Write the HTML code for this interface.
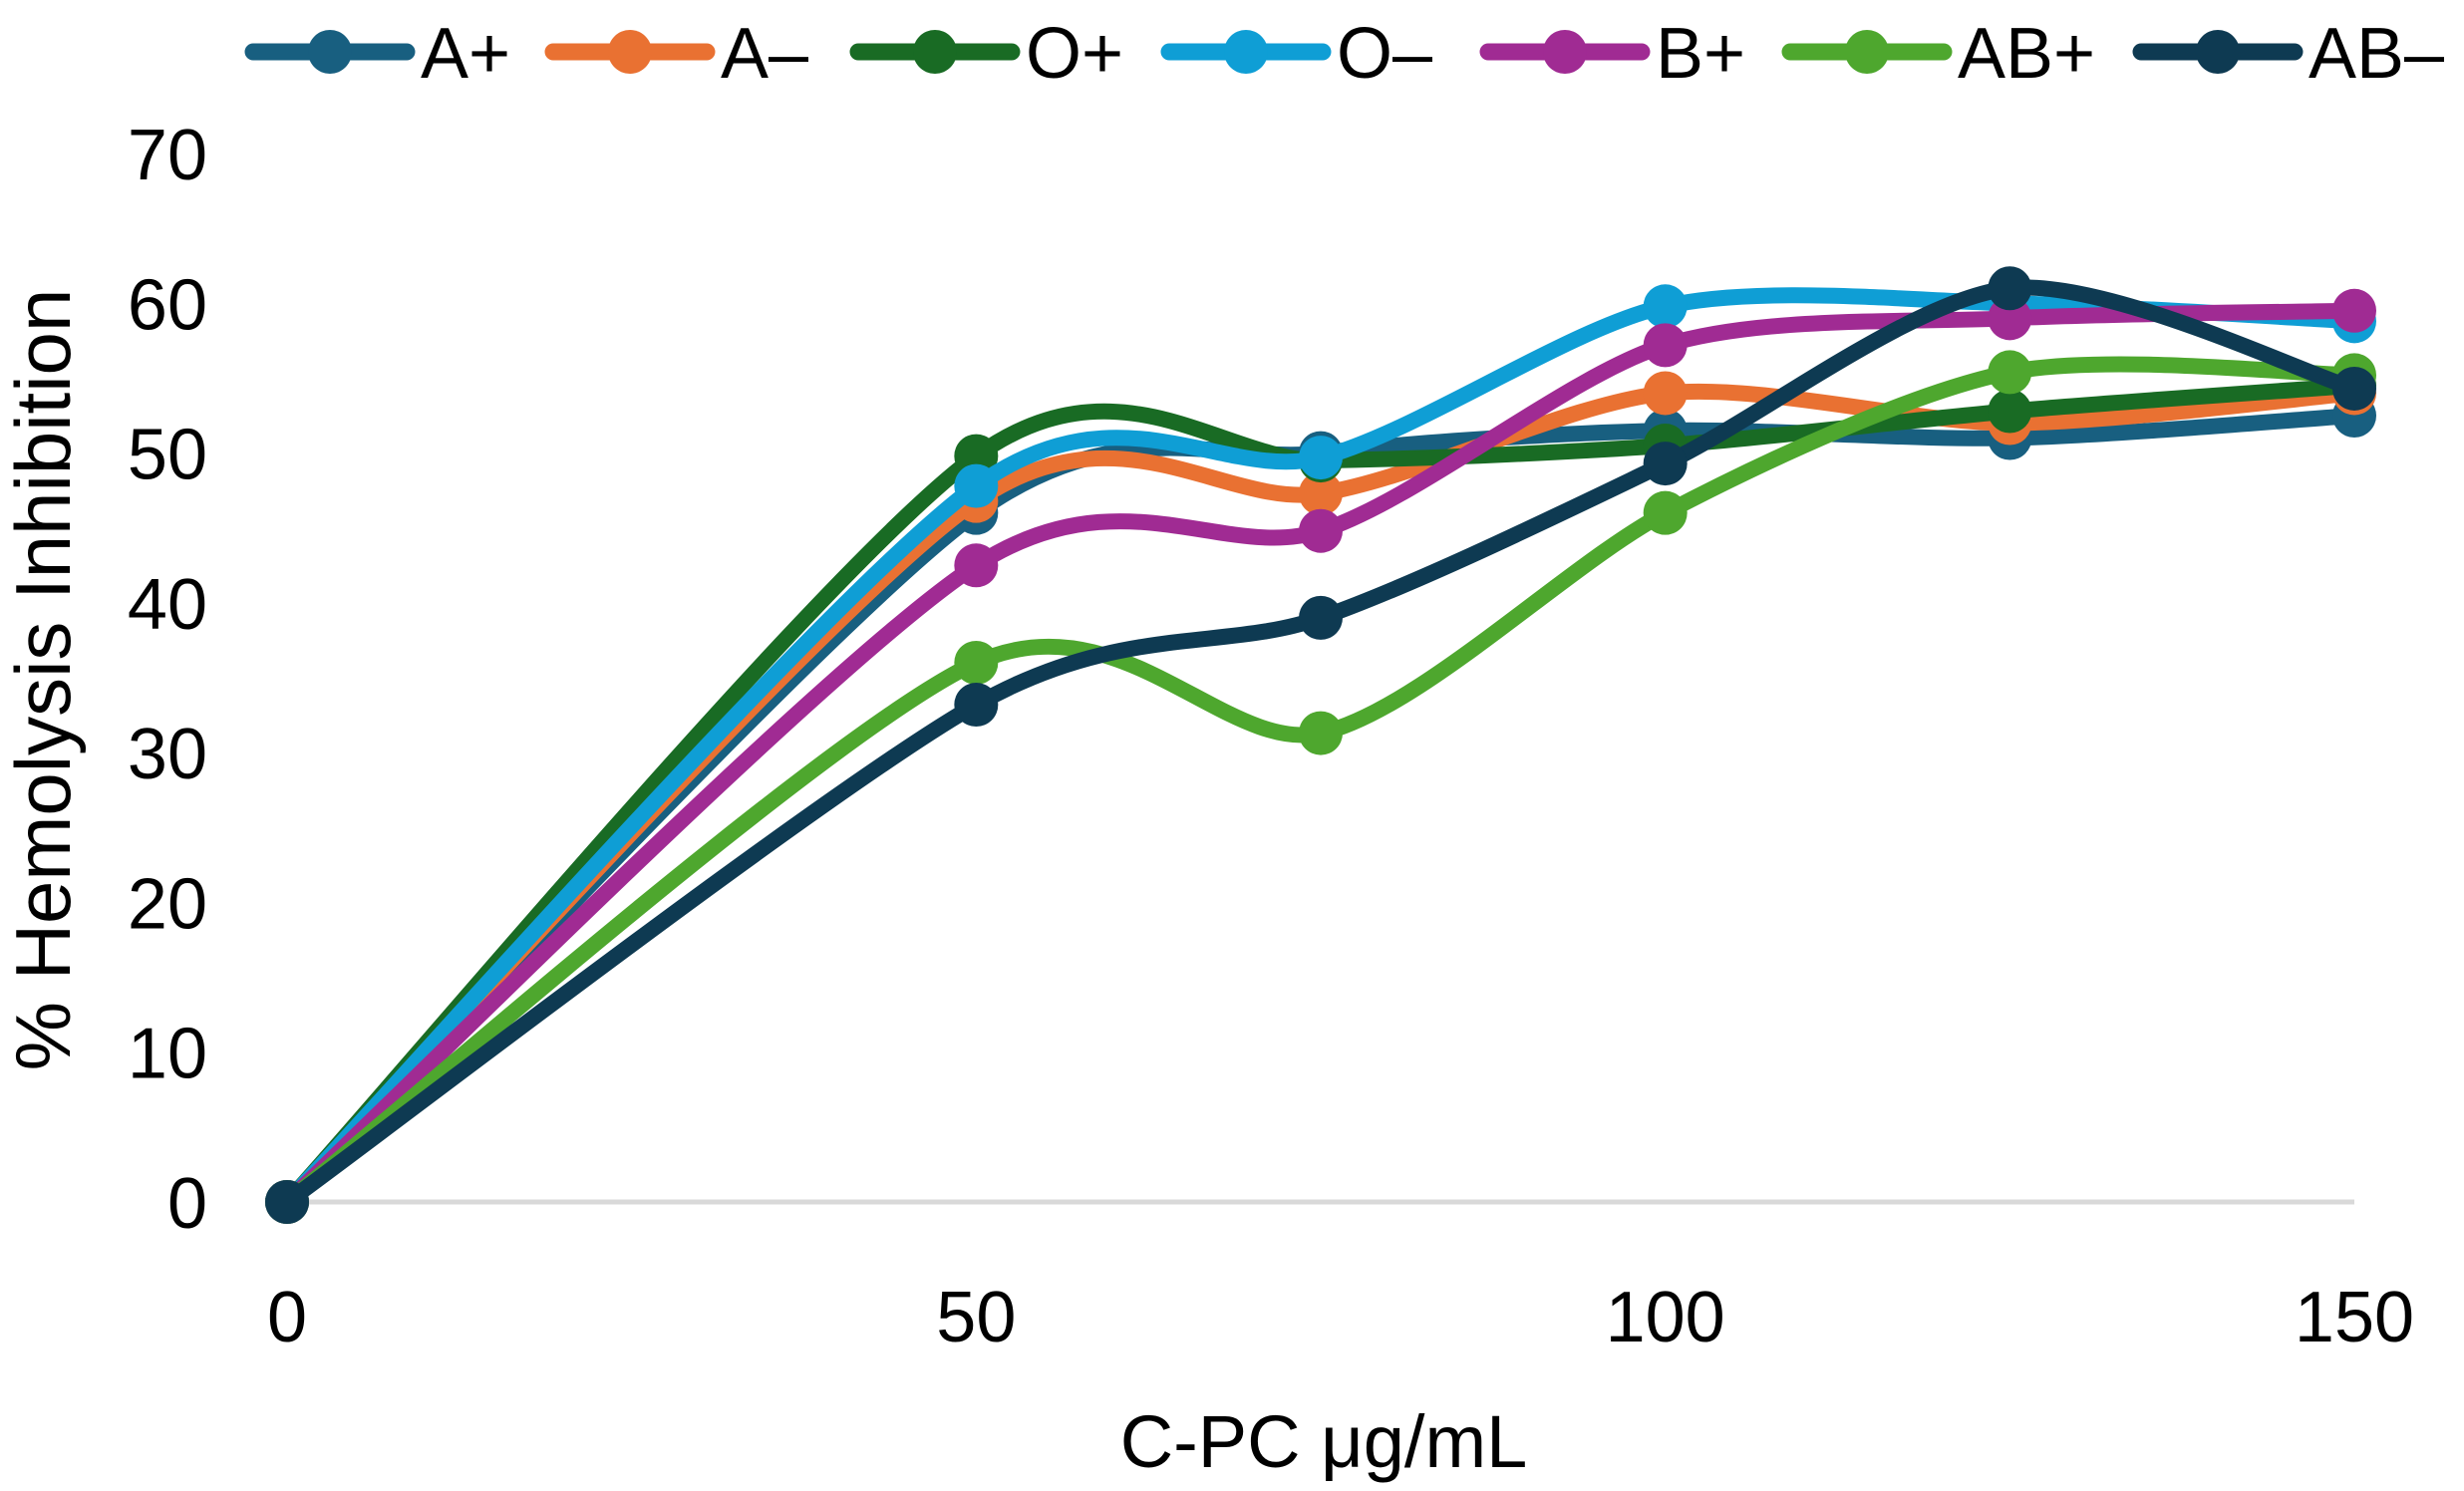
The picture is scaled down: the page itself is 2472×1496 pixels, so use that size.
<!DOCTYPE html>
<html><head><meta charset="utf-8"><style>
html,body{margin:0;padding:0;background:#fff;}
svg{display:block;font-family:"Liberation Sans",sans-serif;}
</style></head><body>
<svg id="chart" width="2472" height="1496" viewBox="0 0 2472 1496">
<g id="grid"></g><g id="series"></g><g id="axes"></g><g id="legend"></g>
<text x="1328" y="1472" font-size="74" text-anchor="middle" fill="#000">C-PC  μg/mL</text>
<text transform="translate(70,682) rotate(-90)" font-size="78" text-anchor="middle" fill="#000">% Hemolysis Inhibition</text>
</svg>
<script>
const xValues=[0,50,75,100,125,150];
const seriesNames=["A+","A–","O+","O–","B+","AB+","AB–"];
const colors=["#185f80","#e97132","#196b24","#0f9ed5","#a02b93","#4ea72e","#0e3a52"];
const sAplus=[0,46,50,51.5,51,52.5];
const sAminus=[0,46.8,47.3,54,52,54];
const sOplus=[0,49.8,49.5,50.5,52.8,54.5];
const sOminus=[0,47.8,49.7,59.8,60,58.8];
const sBplus=[0,42.5,44.8,57.2,59,59.5];
const sABplus=[0,36,31.3,46,55.4,55.2];
const sABminus=[0,33.2,39,49.3,61,54.3];
const seriesValues=[sAplus,sAminus,sOplus,sOminus,sBplus,sABplus,sABminus];
const yTicks=[0,10,20,30,40,50,60,70];
const xTicks=[0,50,100,150];
const NS="http://www.w3.org/2000/svg";
const X=v=>288+(v/150)*(2362-288);
const Y=v=>1206-(v/70)*(1206-154);
function mk(tag,attrs,parent){const e=document.createElementNS(NS,tag);for(const k in attrs)e.setAttribute(k,attrs[k]);parent.appendChild(e);return e;}
const grid=document.getElementById('grid'),axes=document.getElementById('axes'),ser=document.getElementById('series'),leg=document.getElementById('legend');
const gl=mk('line',{x1:X(0),x2:X(150),y1:Y(0),y2:Y(0),stroke:'#d9d9d9','stroke-width':5},grid);


yTicks.forEach(t=>{const e=mk('text',{x:208,y:Y(t)+26,'font-size':72,'text-anchor':'end',fill:'#000'},axes);e.textContent=t;

});
xTicks.forEach(t=>{const e=mk('text',{x:X(t),y:1346,'font-size':72,'text-anchor':'middle',fill:'#000'},axes);e.textContent=t;

});
function smooth(pts){let d=`M${pts[0][0]},${pts[0][1]}`;const k=0.14;
for(let i=0;i<pts.length-1;i++){const p0=pts[i-1]||pts[i],p1=pts[i],p2=pts[i+1],p3=pts[i+2]||p2;
const c1=[p1[0]+(p2[0]-p0[0])*k,p1[1]+(p2[1]-p0[1])*k],c2=[p2[0]-(p3[0]-p1[0])*k,p2[1]-(p3[1]-p1[1])*k];
d+=` C${c1[0]},${c1[1]} ${c2[0]},${c2[1]} ${p2[0]},${p2[1]}`;}return d;}
seriesValues.forEach((vals,si)=>{const g=mk('g',{},ser);


const pts=vals.map((v,i)=>[X(xValues[i]),Y(v)]);
const p=mk('path',{d:smooth(pts),fill:'none',stroke:colors[si],'stroke-width':16,'stroke-linecap':'round','stroke-linejoin':'round'},g);


pts.forEach(pt=>{const c=mk('circle',{cx:pt[0],cy:pt[1],r:22,fill:colors[si]},g);

});});
const legX=[246,547,853,1165,1485,1788,2140];
seriesNames.forEach((n,i)=>{const g=mk('g',{},leg);


const x=legX[i];
mk('line',{x1:x+8,x2:x+162,y1:52,y2:52,stroke:colors[i],'stroke-width':17,'stroke-linecap':'round'},g);
mk('circle',{cx:x+85,cy:52,r:22,fill:colors[i]},g);
const t=mk('text',{x:x+176,y:78,'font-size':72,fill:'#000'},g);t.textContent=n;});
</script>
</body></html>
